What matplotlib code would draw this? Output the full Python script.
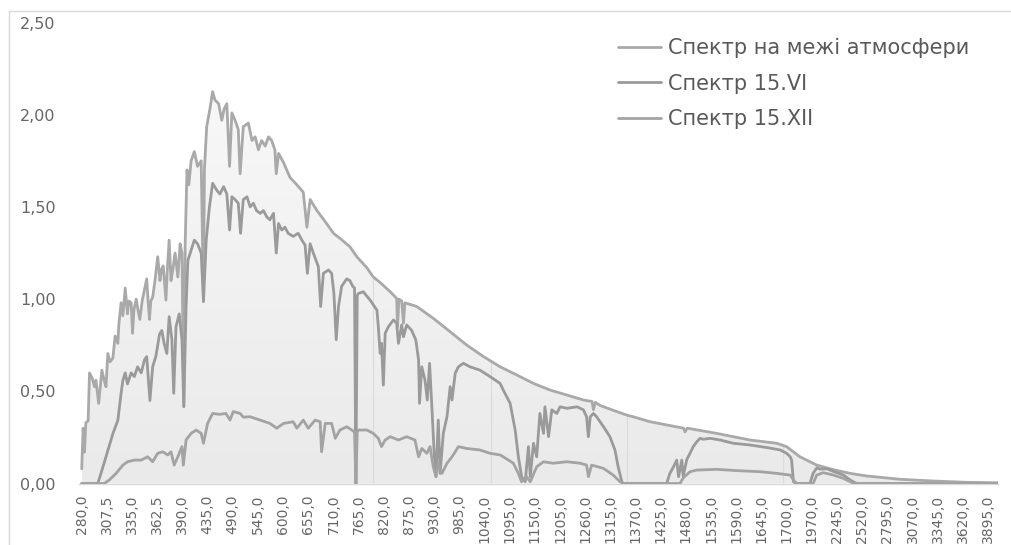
import numpy as np
import matplotlib
matplotlib.use("Agg")
import matplotlib.pyplot as plt
from matplotlib.colors import LinearSegmentedColormap
from matplotlib.patches import Polygon
from matplotlib.lines import Line2D

# ---- category axis: wavelength grid, nm ----
WL_GRID = np.concatenate([
    np.arange(280.0, 400.5, 0.5),
    np.arange(401.0, 1701.0, 1.0),
    np.arange(1700.0, 4001.0, 5.0),
])
LABEL_STEP = 55

SERIES_NAMES = ["Спектр на межі атмосфери", "Спектр 15.VI", "Спектр 15.XII"]
SERIES_COLORS = ["#a9a9a9", "#9a9a9a", "#a3a3a3"]

# ---- spectral irradiance, W/(m2*nm) ----
top_wl = [280, 281.5, 283, 284.5, 287, 288.5, 291.5, 294, 295.5, 298.5, 300, 302, 304.5,
          306.5, 308.5, 311, 314, 316.5, 319.5, 320.5, 323, 325, 327.5, 330, 331.5, 334,
          335.5, 337, 339.5, 341.5, 343.5, 346, 348.5, 351, 352.5, 354, 355.5, 357.5, 360,
          363, 365.5, 367, 369, 372, 373.5, 375.5, 377.5, 379.5, 382, 385, 387.5, 389.5,
          391.5, 393, 395, 397, 399.5, 406, 413, 421, 426, 428, 433, 440, 446, 451, 459,
          466, 471, 477, 483, 488, 495, 502, 506, 513, 524, 532, 539, 546, 553, 561, 568,
          575, 582, 585, 590, 601, 615, 630, 644, 652, 659, 674, 692, 710, 724, 746, 761,
          783, 797, 812, 834, 848, 850, 853, 859, 863, 866, 892, 928, 965, 1001, 1038,
          1074, 1111, 1147, 1183, 1220, 1256, 1275, 1278, 1282, 1293, 1329, 1351, 1365,
          1402, 1475, 1478, 1483, 1547, 1620, 1679, 1700, 1840, 2025, 2205, 2390, 2570,
          2935, 3300, 3665, 4000]
top_val = [0.08, 0.30, 0.17, 0.33, 0.34, 0.60, 0.57, 0.525, 0.56, 0.435, 0.51, 0.615, 0.56,
           0.525, 0.705, 0.66, 0.68, 0.80, 0.76, 0.86, 0.98, 0.91, 1.06, 0.92, 0.99, 0.98,
           0.815, 0.94, 1.00, 0.94, 0.89, 0.99, 1.05, 1.11, 0.99, 0.89, 0.99, 1.01, 1.10,
           1.23, 1.10, 1.16, 1.18, 0.995, 1.16, 1.32, 1.10, 1.16, 1.25, 1.12, 1.30, 1.25,
           0.42, 1.30, 1.70, 1.62, 1.75, 1.80, 1.72, 1.75, 0.99, 1.70, 1.935, 2.03, 2.125,
           2.08, 2.06, 1.97, 2.03, 2.06, 1.72, 2.01, 1.97, 1.92, 1.68, 1.935, 1.955, 1.86,
           1.88, 1.81, 1.86, 1.83, 1.88, 1.86, 1.81, 1.68, 1.79, 1.74, 1.66, 1.62, 1.58,
           1.39, 1.54, 1.48, 1.42, 1.357, 1.33, 1.284, 1.23, 1.17, 1.12, 1.09, 1.04, 1.004,
           0.85, 1.00, 0.99, 0.87, 0.98, 0.96, 0.896, 0.823, 0.751, 0.688, 0.633, 0.588,
           0.543, 0.507, 0.48, 0.453, 0.445, 0.40, 0.44, 0.423, 0.39, 0.371, 0.362, 0.335,
           0.30, 0.28, 0.30, 0.272, 0.236, 0.218, 0.20, 0.145, 0.10, 0.075, 0.055, 0.041,
           0.023, 0.0136, 0.0065, 0.004]

jun_wl = [280, 297.5, 301, 306.5, 314, 319.5, 323, 325, 327.5, 330, 334, 337.5, 341, 345,
          348.5, 351, 354.5, 357.5, 361, 365, 367.5, 370, 373, 375.5, 378.5, 380.5, 383,
          386.5, 389.5, 391.5, 394, 396, 399.5, 406, 413, 421, 426, 432, 439, 446, 455, 462,
          470, 477, 483, 488, 495, 502, 507, 513, 521, 528, 535, 542, 550, 557, 564, 571,
          579, 585, 590, 597, 604, 611, 622, 633, 641, 648, 653, 659, 666, 677, 682, 688,
          699, 706, 711, 716, 721, 728, 739, 746, 752, 756, 759, 762, 764, 775, 790, 805,
          808, 812, 815, 819, 823, 830, 841, 848, 852, 859, 863, 870, 881, 890, 896, 898,
          903, 910, 915, 920, 925, 930, 934, 939, 943, 950, 958, 965, 969, 976, 983, 994,
          1008, 1030, 1052, 1074, 1081, 1096, 1107, 1114, 1121, 1129, 1136, 1140, 1147,
          1154, 1161, 1169, 1172, 1180, 1187, 1198, 1205, 1220, 1242, 1256, 1263, 1267,
          1271, 1278, 1285, 1300, 1314, 1325, 1332, 1340, 1343, 1438, 1445, 1453, 1460,
          1464, 1471, 1474, 1482, 1489, 1496, 1504, 1511, 1518, 1533, 1555, 1569, 1584,
          1620, 1657, 1686, 1700, 1735, 1750, 1770, 1805, 1950, 1985, 2025, 2060, 2135,
          2205, 2315, 2390, 2460, 4000]
jun_val = [0.0, 0.0, 0.055, 0.145, 0.27, 0.344, 0.49, 0.56, 0.60, 0.54, 0.60, 0.58, 0.633,
           0.60, 0.67, 0.688, 0.45, 0.633, 0.69, 0.81, 0.83, 0.76, 0.705, 0.905, 0.78, 0.49,
           0.85, 0.92, 0.78, 0.416, 0.96, 1.21, 1.266, 1.32, 1.30, 1.25, 0.986, 1.32, 1.50,
           1.628, 1.59, 1.57, 1.61, 1.57, 1.375, 1.555, 1.54, 1.52, 1.357, 1.54, 1.555, 1.50,
           1.52, 1.48, 1.465, 1.48, 1.447, 1.43, 1.465, 1.25, 1.41, 1.375, 1.39, 1.357, 1.34,
           1.357, 1.32, 1.293, 1.14, 1.30, 1.25, 1.176, 0.96, 1.14, 1.158, 1.14, 1.03, 0.78,
           0.96, 1.07, 1.11, 1.10, 1.07, 1.06, 0.0, 1.02, 1.03, 1.04, 0.995, 0.94, 0.85,
           0.706, 0.76, 0.534, 0.815, 0.85, 0.887, 0.87, 0.76, 0.86, 0.796, 0.86, 0.83,
           0.778, 0.67, 0.435, 0.633, 0.56, 0.453, 0.652, 0.416, 0.164, 0.037, 0.344, 0.055,
           0.272, 0.362, 0.525, 0.453, 0.598, 0.633, 0.652, 0.633, 0.615, 0.58, 0.543, 0.507,
           0.435, 0.29, 0.145, 0.037, 0.01, 0.20, 0.037, 0.218, 0.145, 0.38, 0.272, 0.416,
           0.254, 0.40, 0.38, 0.416, 0.408, 0.416, 0.40, 0.362, 0.254, 0.362, 0.38, 0.362,
           0.308, 0.254, 0.182, 0.091, 0.01, 0.0, 0.0, 0.055, 0.091, 0.127, 0.037, 0.127,
           0.04, 0.13, 0.164, 0.20, 0.227, 0.245, 0.240, 0.245, 0.236, 0.227, 0.218, 0.209,
           0.195, 0.182, 0.164, 0.145, 0.127, 0.01, 0.0, 0.0, 0.055, 0.085, 0.078, 0.08,
           0.066, 0.046, 0.019, 0.0, 0.0]

dec_wl = [280, 304.5, 310, 317.5, 325, 330, 337.5, 345, 352, 357.5, 363, 368.5, 374,
          377.5, 381, 385, 389.5, 391, 394, 399.5, 410, 421, 426, 435, 446, 461, 475, 484,
          491, 506, 513, 528, 550, 571, 586, 601, 622, 630, 644, 655, 670, 681, 684, 692,
          706, 714, 724, 739, 750, 756, 759, 762, 764, 783, 797, 808, 815, 823, 834, 852,
          870, 888, 896, 903, 914, 921, 928, 934, 939, 947, 958, 969, 983, 1001, 1030, 1052,
          1074, 1081, 1103, 1114, 1121, 1132, 1140, 1154, 1169, 1190, 1220, 1249, 1263,
          1267, 1274, 1300, 1321, 1336, 1343, 1467, 1474, 1489, 1504, 1547, 1591, 1642,
          1679, 1700, 1735, 1770, 1805, 1985, 2025, 2095, 2205, 2315, 2390, 2425, 4000]
dec_val = [0.0, 0.0, 0.019, 0.055, 0.10, 0.118, 0.127, 0.127, 0.145, 0.118, 0.164, 0.172,
           0.155, 0.172, 0.10, 0.145, 0.20, 0.10, 0.236, 0.272, 0.29, 0.272, 0.218, 0.326,
           0.38, 0.375, 0.38, 0.344, 0.39, 0.38, 0.36, 0.362, 0.344, 0.326, 0.30, 0.326,
           0.335, 0.30, 0.344, 0.30, 0.344, 0.335, 0.172, 0.326, 0.326, 0.245, 0.29, 0.308,
           0.29, 0.28, 0.0, 0.28, 0.29, 0.29, 0.272, 0.245, 0.20, 0.236, 0.254, 0.236, 0.254,
           0.236, 0.145, 0.19, 0.164, 0.20, 0.091, 0.037, 0.11, 0.055, 0.11, 0.145, 0.20,
           0.19, 0.182, 0.164, 0.155, 0.145, 0.11, 0.055, 0.01, 0.037, 0.01, 0.091, 0.118,
           0.11, 0.118, 0.11, 0.10, 0.037, 0.10, 0.082, 0.046, 0.01, 0.0, 0.0, 0.03, 0.064,
           0.073, 0.077, 0.07, 0.064, 0.055, 0.048, 0.046, 0.019, 0.0, 0.0, 0.046, 0.059,
           0.046, 0.028, 0.01, 0.0, 0.0]

# light seams of the shaded area, nm
SEAM_WL = [796, 1054, 1351, 1692]


def cat_pos(wl):
    """Position of a wavelength on the category axis (index into WL_GRID)."""
    wl = np.asarray(wl, dtype=float)
    return np.where(wl <= 400, (wl - 280) * 2,
                    np.where(wl <= 1700, 240 + (wl - 400), 1541 + (wl - 1700) / 5))


plt.rcParams["font.family"] = ["DejaVu Sans"]
fig = plt.figure(figsize=(10.12, 5.45), dpi=100)
fig.patch.set_facecolor("white")

ax = fig.add_axes([0.0785, 0.1128, 0.9077, 0.8459])
ax.set_xlim(-5, len(WL_GRID))
ax.set_ylim(0, 2.5)

# shaded area under the extraterrestrial spectrum
xt = cat_pos(top_wl)
poly_xy = np.column_stack([np.r_[xt[0], xt, xt[-1]], np.r_[0, top_val, 0]])
area = Polygon(poly_xy, closed=True, facecolor="none", edgecolor="none")
ax.add_patch(area)
shade = LinearSegmentedColormap.from_list("shade", ["#eaeaea", "#f8f8f8"])
grad = np.linspace(0, 1, 256).reshape(-1, 1)
img = ax.imshow(grad, cmap=shade, origin="lower", aspect="auto",
                extent=[xt[0], xt[-1], 0, 2.2], zorder=0.5, interpolation="bilinear")
img.set_clip_path(area)
seams = ax.vlines(cat_pos(SEAM_WL), 0, 2.5, colors="#dcdcdc", linewidth=0.9, zorder=0.6)
seams.set_clip_path(area)

series = [(top_wl, top_val), (jun_wl, jun_val), (dec_wl, dec_val)]
for (wl, val), name, col in zip(series, SERIES_NAMES, SERIES_COLORS):
    ax.plot(cat_pos(wl), val, color=col, linewidth=2.0, label=name,
            solid_joinstyle="round", solid_capstyle="round", zorder=2)

# axes styling
for side in ["top", "right", "left"]:
    ax.spines[side].set_visible(False)
ax.spines["bottom"].set_color("#d9d9d9")
ax.spines["bottom"].set_linewidth(1.0)
ax.spines["bottom"].set_zorder(1)

yt = np.arange(0, 2.51, 0.5)
ax.set_yticks(yt)
ax.set_yticklabels([f"{v:.2f}".replace(".", ",") for v in yt])
xpos = np.arange(0, len(WL_GRID), LABEL_STEP)
ax.set_xticks(xpos)
ax.set_xticklabels([f"{WL_GRID[i]:.1f}".replace(".", ",") for i in xpos], rotation=90)
ax.tick_params(axis="y", length=0, pad=17, labelsize=11.5, labelcolor="#666666")
ax.tick_params(axis="x", length=0, pad=8, labelsize=10, labelcolor="#666666")

leg = ax.legend(loc="upper left", bbox_to_anchor=(618 / 1012, 1 - 38 / 545),
                bbox_transform=fig.transFigure, frameon=False, fontsize=15,
                handlelength=2.05, handletextpad=0.33, labelspacing=0.74,
                borderaxespad=0, borderpad=0)
for t in leg.get_texts():
    t.set_color("#595959")

# chart-area frame
fig.add_artist(Line2D([8.5 / 1012, 1.0], [1 - 11 / 545] * 2, color="#d9d9d9",
                      linewidth=1.0, transform=fig.transFigure))
fig.add_artist(Line2D([8.5 / 1012] * 2, [0, 1 - 11 / 545], color="#d9d9d9",
                      linewidth=1.0, transform=fig.transFigure))

fig.savefig("out.png", dpi=100, facecolor="white")
